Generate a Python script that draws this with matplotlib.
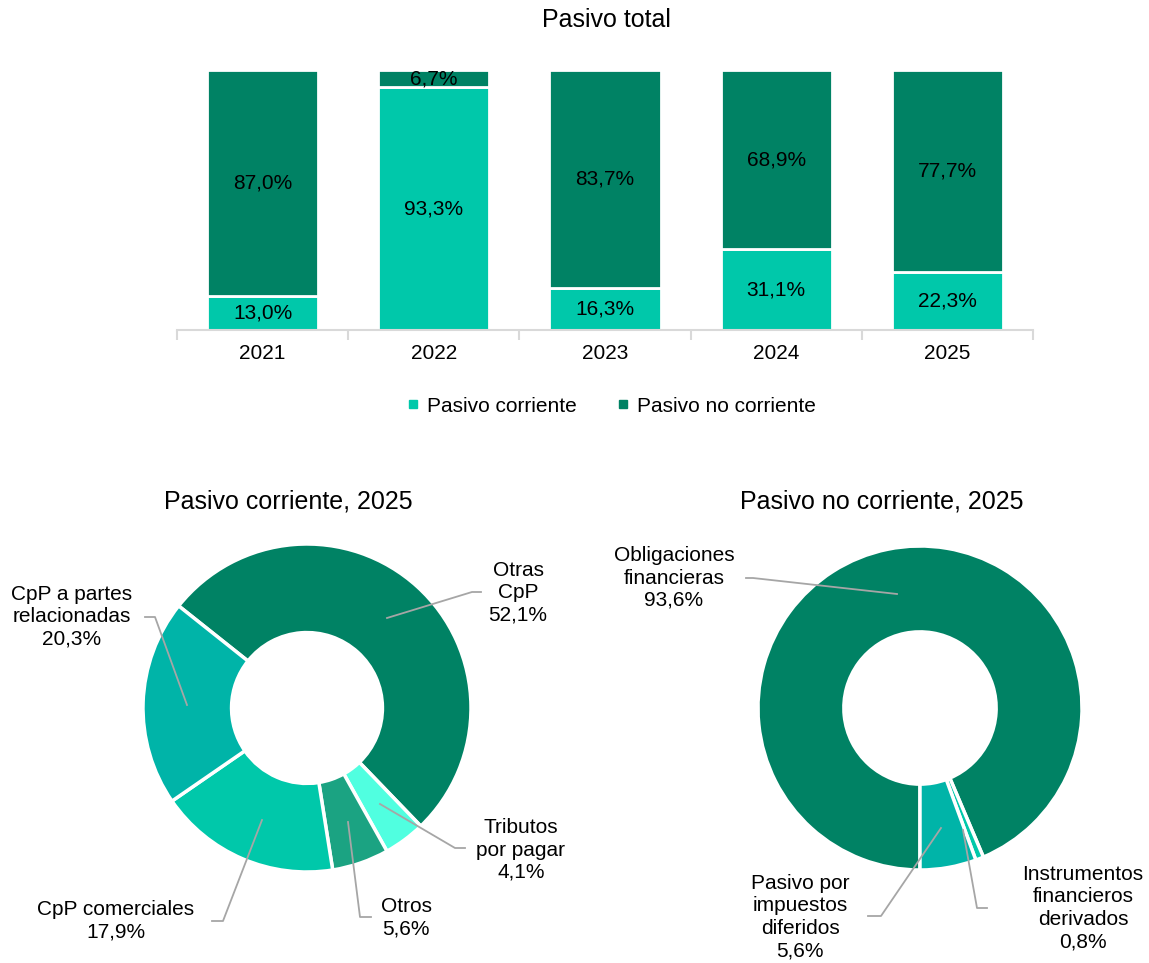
import matplotlib
matplotlib.use("Agg")
import matplotlib.pyplot as plt
from matplotlib.lines import Line2D

plt.rcParams['font.family'] = ['Liberation Sans', 'DejaVu Sans']

# ---------------- data ----------------
years = ["2021", "2022", "2023", "2024", "2025"]
pasivo_corriente = [13.0, 93.3, 16.3, 31.1, 22.3]
pasivo_no_corriente = [87.0, 6.7, 83.7, 68.9, 77.7]
series_names = ["Pasivo corriente", "Pasivo no corriente"]

corr_labels = ["Otras\nCpP", "Tributos\npor pagar", "Otros", "CpP comerciales", "CpP a partes\nrelacionadas"]
corr_values = [52.1, 4.1, 5.6, 17.9, 20.3]

nocorr_labels = ["Obligaciones\nfinancieras", "Instrumentos\nfinancieros\nderivados", "Pasivo por\nimpuestos\ndiferidos"]
nocorr_values = [93.6, 0.8, 5.6]

# ---------------- styles ----------------
DARK = "#008264"
LIGHT = "#00C8AA"
corr_colors = [DARK, "#50FFE0", "#1BA382", LIGHT, "#00B4A8"]
nocorr_colors = [DARK, LIGHT, "#00B4A8"]
GRAY = "#A6A6A6"

W, H = 1149, 963
fig = plt.figure(figsize=(W / 100, H / 100), dpi=100)


def fx(px):
    return px / W


def fy(py):
    return 1 - py / H


def fmt(v):
    return f"{v:.1f}".replace(".", ",") + "%"


# ---------------- stacked bars ----------------
ax = fig.add_axes([fx(177), fy(330), fx(1033) - fx(177), fy(70) - fy(330)])
x = list(range(len(years)))
bw = 0.65
ax.bar(x, pasivo_corriente, bw, color=LIGHT, edgecolor="white", linewidth=2)
ax.bar(x, pasivo_no_corriente, bw, bottom=pasivo_corriente, color=DARK,
       edgecolor="white", linewidth=2)
for i in x:
    ax.text(i, pasivo_corriente[i] / 2, fmt(pasivo_corriente[i]), ha="center", va="center",
            fontsize=15, color="black")
    ax.text(i, pasivo_corriente[i] + pasivo_no_corriente[i] / 2, fmt(pasivo_no_corriente[i]),
            ha="center", va="center", fontsize=15, color="black")
ax.set_xlim(-0.5, len(years) - 0.5)
ax.set_ylim(0, 100)
for s in ["top", "right", "left"]:
    ax.spines[s].set_visible(False)
ax.spines["bottom"].set_color("#D9D9D9")
ax.spines["bottom"].set_linewidth(1.5)
ax.set_yticks([])
ax.set_xticks(x)
ax.set_xticklabels(years, fontsize=15)
ax.tick_params(axis="x", which="major", length=0, pad=10)
ax.set_xticks([i - 0.5 for i in range(len(years) + 1)], minor=True)
ax.tick_params(axis="x", which="minor", length=7, width=1.5, color="#D9D9D9", direction="out")

fig.text(fx(606), fy(20), "Pasivo total", ha="center", va="center", fontsize=18)

handles = [Line2D([], [], marker="s", linestyle="none", markersize=6, color=LIGHT),
           Line2D([], [], marker="s", linestyle="none", markersize=6, color=DARK)]
fig.legend(handles, series_names, loc="center", bbox_to_anchor=(fx(612), fy(406)), ncol=2,
           frameon=False, fontsize=15, handlelength=0.5, handletextpad=0.4, columnspacing=2.0)

# ---------------- donuts ----------------
R1, cx1, cy1 = 164.0, 307.0, 708.0
R2, cx2, cy2 = 162.0, 920.0, 708.0


def donut_axes(left_px, right_px, top_px, bottom_px, cx, cy, R):
    a = fig.add_axes([fx(left_px), fy(bottom_px), fx(right_px) - fx(left_px), fy(top_px) - fy(bottom_px)])
    a.set_axis_off()
    return a, (lambda px, py: ((px - cx) / R, (cy - py) / R)), \
        ((left_px - cx) / R, (right_px - cx) / R), ((cy - bottom_px) / R, (cy - top_px) / R)


ax1, t1, xl1, yl1 = donut_axes(0, 614, 470, 963, cx1, cy1, R1)
ax1.pie(corr_values, colors=corr_colors, startangle=141.5, counterclock=False,
        wedgeprops=dict(width=0.54, edgecolor="white", linewidth=2.5))
ax1.set_xlim(*xl1)
ax1.set_ylim(*yl1)

ax2, t2, xl2, yl2 = donut_axes(614, 1149, 470, 963, cx2, cy2, R2)
ax2.pie(nocorr_values, colors=nocorr_colors, startangle=270, counterclock=False,
        wedgeprops=dict(width=0.53, edgecolor="white", linewidth=2.5))
ax2.set_xlim(*xl2)
ax2.set_ylim(*yl2)

fig.text(fx(288), fy(502), "Pasivo corriente, 2025", ha="center", va="center", fontsize=18)
fig.text(fx(882), fy(502), "Pasivo no corriente, 2025", ha="center", va="center", fontsize=18)


def leader(a, tr, pts, text_xy, label):
    xs, ys = zip(*[tr(px, py) for px, py in pts])
    a.plot(xs, ys, color=GRAY, linewidth=1.3, clip_on=False)
    tx, ty = tr(*text_xy)
    a.text(tx, ty, label, ha="center", va="center", fontsize=15, linespacing=1.23, clip_on=False)


# Pasivo corriente labels
corr_lines = [
    [(387, 618), (472, 592), (481, 592)],
    [(380, 804), (455, 848), (465, 848)],
    [(348, 822), (360, 917), (371, 917)],
    [(262, 820), (223, 921), (212, 921)],
    [(187, 705), (155, 617), (145, 617)],
]
corr_text = [(518, 593), (521, 850), (406, 918), (116, 921), (72, 617)]
for lab, v, pts, tp in zip(corr_labels, corr_values, corr_lines, corr_text):
    leader(ax1, t1, pts, tp, f"{lab}\n{fmt(v)}")

# Pasivo no corriente labels
nocorr_lines = [
    [(897, 594), (753, 578), (746, 578)],
    [(963, 830), (977, 908), (987, 908)],
    [(941, 828), (881, 916), (868, 916)],
]
nocorr_text = [(674, 578), (1083, 908), (800, 917)]
for lab, v, pts, tp in zip(nocorr_labels, nocorr_values, nocorr_lines, nocorr_text):
    leader(ax2, t2, pts, tp, f"{lab}\n{fmt(v)}")

fig.savefig("out.png", dpi=100, facecolor="white")
